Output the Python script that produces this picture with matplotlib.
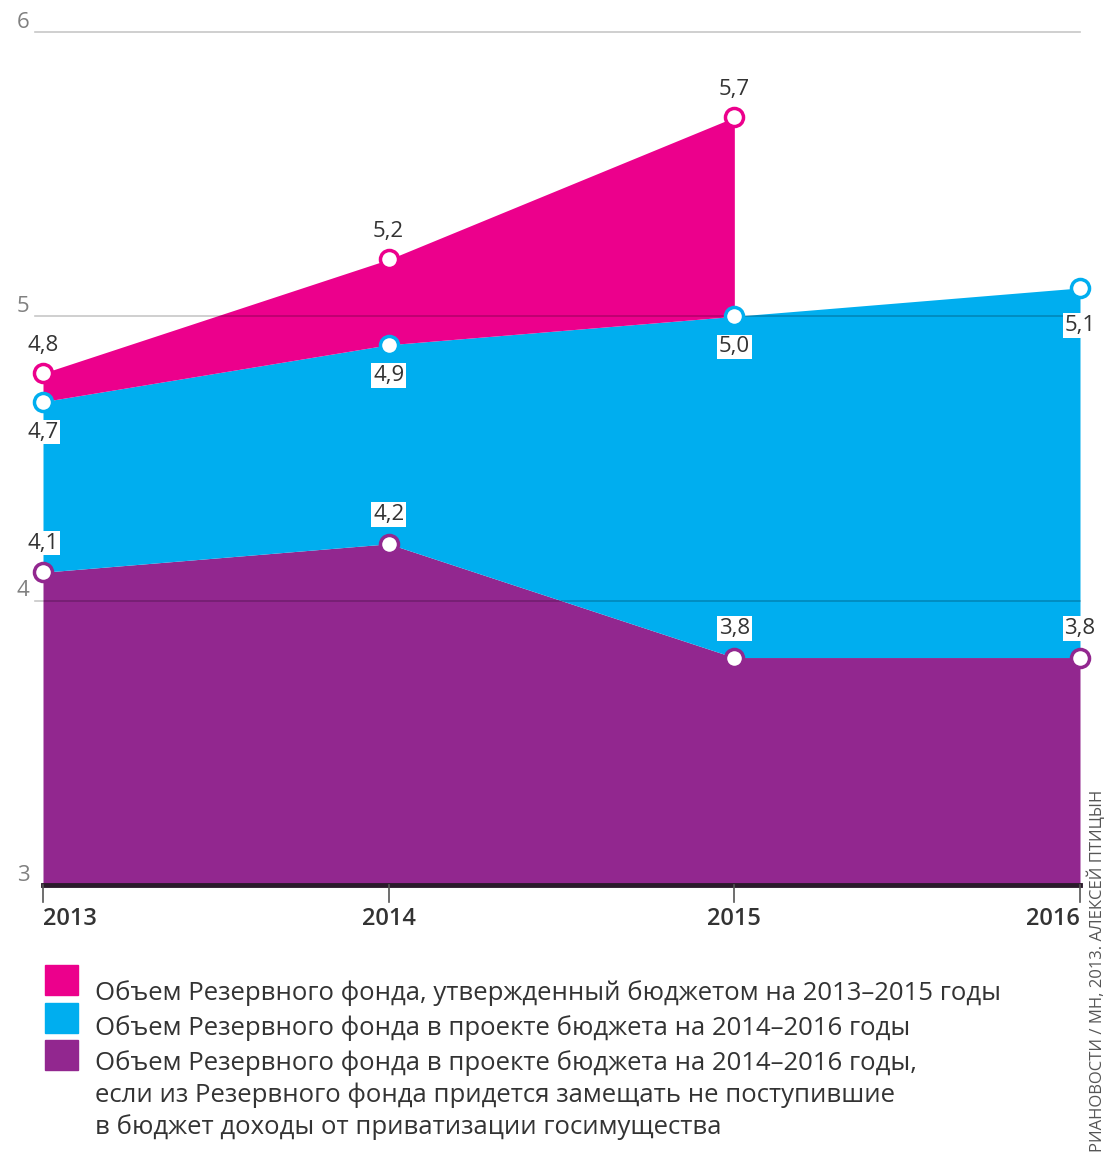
import matplotlib
matplotlib.use("Agg")
import matplotlib.pyplot as plt

years = [2013, 2014, 2015, 2016]
approved = [4.8, 5.2, 5.7]          # 2013-2015
project = [4.7, 4.9, 5.0, 5.1]      # 2014-2016 project
no_privat = [4.1, 4.2, 3.8, 3.8]    # without privatisation income
yticks = [3, 4, 5, 6]

legend_texts = [
    "Объем Резервного фонда, утвержденный бюджетом на 2013–2015 годы",
    "Объем Резервного фонда в проекте бюджета на 2014–2016 годы",
    "Объем Резервного фонда в проекте бюджета на 2014–2016 годы,\n"
    "если из Резервного фонда придется замещать не поступившие\n"
    "в бюджет доходы от приватизации госимущества",
]
credit = "РИАНОВОСТИ / МН, 2013. АЛЕКСЕЙ ПТИЦЫН"

pink = "#ec008c"
blue = "#00aeef"
purple = "#92278f"
txt = "#333333"

plt.rcParams['font.family'] = ['Open Sans', 'DejaVu Sans']

fig = plt.figure(figsize=(11.09, 11.54), dpi=100)
W, H = 1109, 1154
ax = fig.add_axes([43 / W, (H - 885) / H, (1080 - 43) / W, (885 - 32) / H])
ax.set_xlim(2013, 2016)
ax.set_ylim(3, 6)
ax.axis("off")

ax.fill_between(years, 3, no_privat, color=purple, lw=0, zorder=1)
ax.fill_between(years, no_privat, project, color=blue, lw=0, zorder=1)
ax.fill_between(years[:3], project[:3], approved, color=pink, lw=0, zorder=1)

# grid lines (drawn over the fills)
for t in yticks[1:]:
    ax.axhline(t, xmin=-0.008, xmax=1, color="black", alpha=0.22, lw=1.2, zorder=2, clip_on=False)
for t in yticks:
    ax.annotate(str(t), xy=(0, t), xycoords=("axes fraction", "data"),
                xytext=(-19, 7), textcoords="offset points", ha="left", va="center",
                fontsize=16, color="#808080")

# bottom axis
ax.axhline(3, color="#2b1a2b", lw=3.5, zorder=3, clip_on=False)
for i, y in enumerate(years):
    ax.plot([y, y], [3, 2.94], color="#555555", lw=1.2, clip_on=False, zorder=3)
    ha = "left" if i == 0 else ("right" if i == len(years) - 1 else "center")
    ax.text(y, 2.88, str(y), ha=ha, va="center", fontsize=17, color=txt, fontweight="semibold")

# markers
mk = dict(marker="o", ms=13, mfc="white", mew=2.5, ls="none", clip_on=False, zorder=5)
ax.plot(years[:3], approved, mec=pink, **mk)
ax.plot(years, project, mec=blue, **mk)
ax.plot(years, no_privat, mec=purple, **mk)

box = dict(boxstyle="square,pad=0.08", fc="white", ec="none")


def lab(x, y, s, dy, boxed, ha="center", dx=0):
    ax.annotate(s, xy=(x, y), xytext=(dx, dy), textcoords="offset points",
                ha=ha, va="center", fontsize=16, color=txt, zorder=6,
                bbox=box if boxed else None, annotation_clip=False)


def fmt(v):
    return ("%.1f" % v).replace(".", ",")


for i, v in enumerate(approved):
    lab(years[i], v, fmt(v), 20, False)
for i, v in enumerate(project):
    lab(years[i], v, fmt(v), -27 if i == 3 else -22, True)
for i, v in enumerate(no_privat):
    lab(years[i], v, fmt(v), 21, True)

# legend
colors = [pink, blue, purple]
sq_y = [965, 1003, 1040]
for c, y0 in zip(colors, sq_y):
    fig.patches.append(plt.Rectangle((45 / W, 1 - (y0 + 30) / H), 33 / W, 30 / H,
                                     transform=fig.transFigure, color=c))
line_y = [993, 1028, 1063]
for s, y0 in zip(legend_texts, line_y):
    fig.text(95 / W, 1 - (y0 - 13) / H, s, ha="left", va="top", fontsize=18.5,
             color=txt, linespacing=1.32)

fig.text(1097 / W, 1 - 790 / H, credit, rotation=90, ha="center", va="top",
         fontsize=12, color="#555555")

fig.savefig("out.png", dpi=100, facecolor="white")
